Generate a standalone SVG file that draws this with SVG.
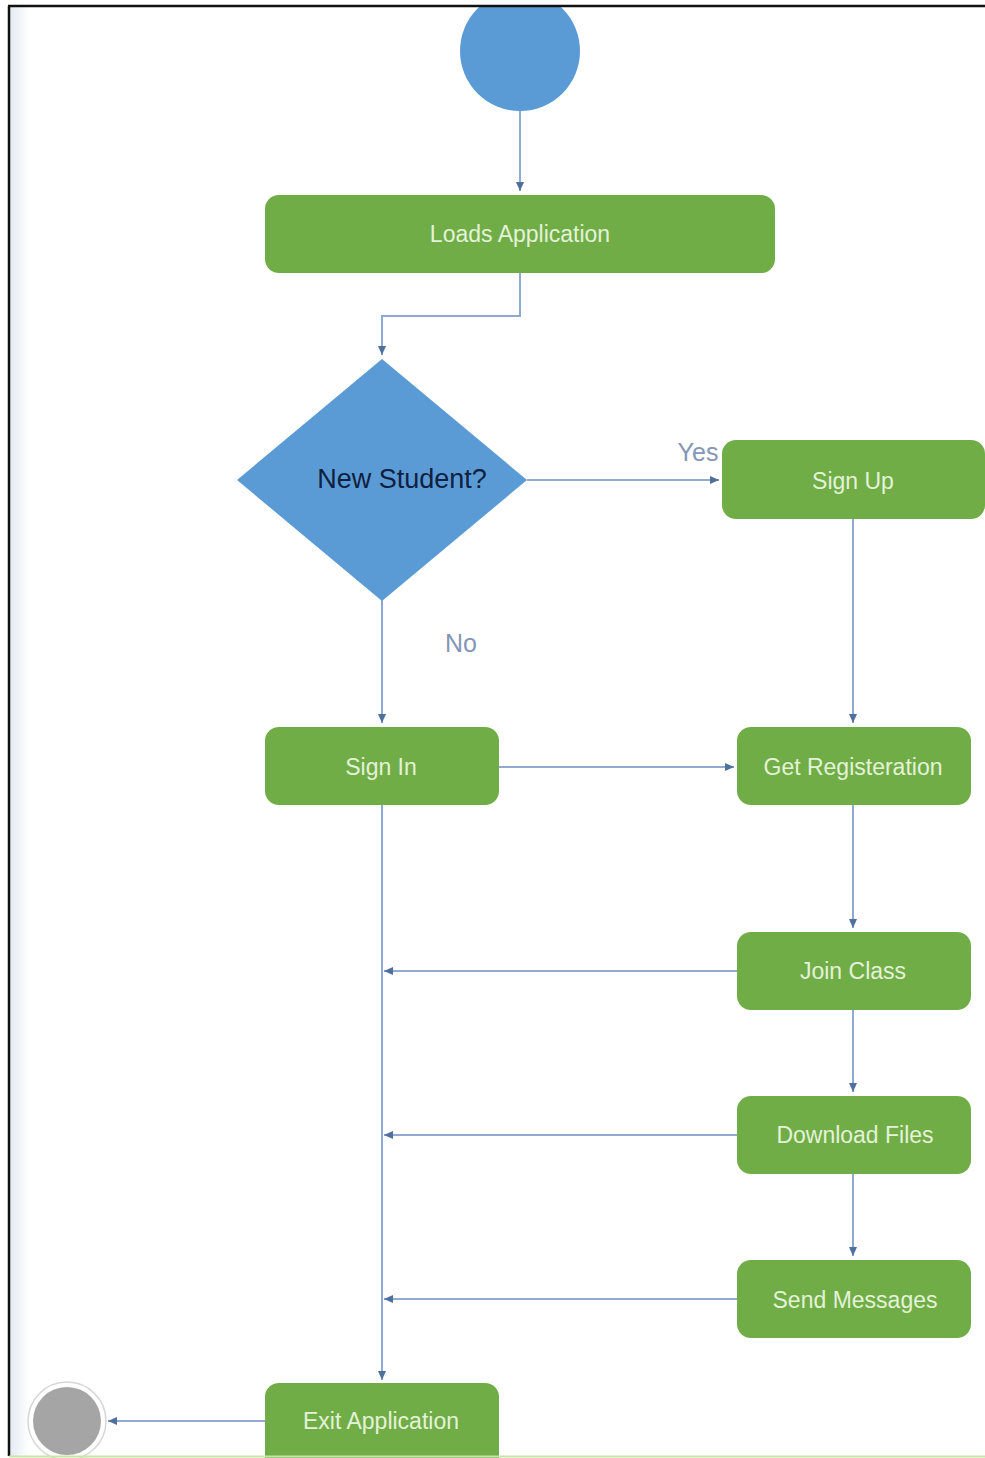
<svg xmlns="http://www.w3.org/2000/svg" width="985" height="1458" viewBox="0 0 985 1458">
<defs>
<linearGradient id="strip" x1="0" y1="0" x2="1" y2="0">
<stop offset="0" stop-color="#e4ebf3"/>
<stop offset="1" stop-color="#ffffff"/>
</linearGradient>
<marker id="ah" markerWidth="10" markerHeight="10" refX="9" refY="5" orient="auto" markerUnits="userSpaceOnUse">
<path d="M0,1 L9,5 L0,9 Z" fill="#4f6f9f"/>
</marker>
<style>
.act{fill:#70ad47;}
.at{font-family:"Liberation Sans",Arial,sans-serif;font-size:23px;fill:#e4f2d8;text-anchor:middle;dominant-baseline:central;}
.conn{fill:none;stroke:#8fa9d1;stroke-width:2;marker-end:url(#ah);}
.lbl{font-family:"Liberation Sans",Arial,sans-serif;font-size:25px;fill:#8496b6;text-anchor:middle;dominant-baseline:central;}
</style>
</defs>
<rect x="0" y="0" width="985" height="1458" fill="#ffffff"/>
<rect x="10" y="7" width="20" height="1449" fill="url(#strip)"/>

<g id="connectors">
<path class="conn" d="M520,110 L520,191"/>
<path class="conn" d="M520,273 L520,316 L382,316 L382,355"/>
<path class="conn" d="M527,480 L719,480"/>
<path class="conn" d="M853,519 L853,723"/>
<path class="conn" d="M382,600 L382,723"/>
<path class="conn" d="M499,767 L734,767"/>
<path class="conn" d="M853,805 L853,928"/>
<path class="conn" d="M737,971 L384,971"/>
<path class="conn" d="M853,1010 L853,1092"/>
<path class="conn" d="M737,1135 L384,1135"/>
<path class="conn" d="M853,1174 L853,1256"/>
<path class="conn" d="M737,1299 L384,1299"/>
<path class="conn" d="M382,805 L382,1380"/>
<path class="conn" d="M265,1421 L108,1421"/>
<text class="lbl" x="698" y="452">Yes</text>
<text class="lbl" x="461" y="643">No</text>
</g>

<g id="start">
<circle cx="520" cy="51" r="60" fill="#5b9bd5"/>
</g>
<g id="loads">
<rect class="act" x="265" y="195" width="510" height="78" rx="14"/>
<text class="at" x="520" y="234">Loads Application</text>
</g>
<g id="decision">
<polygon points="382,359 527,480 382,601 237,480" fill="#5b9bd5"/>
<text x="402" y="479" font-family="Liberation Sans,Arial,sans-serif" font-size="27" fill="#0f2040" text-anchor="middle" dominant-baseline="central">New Student?</text>
</g>
<g id="signup">
<rect class="act" x="722" y="440" width="263" height="79" rx="14"/>
<text class="at" x="853" y="481">Sign Up</text>
</g>
<g id="signin">
<rect class="act" x="265" y="727" width="234" height="78" rx="14"/>
<text class="at" x="381" y="767">Sign In</text>
</g>
<g id="getreg">
<rect class="act" x="737" y="727" width="234" height="78" rx="14"/>
<text class="at" x="853" y="767">Get Registeration</text>
</g>
<g id="joinclass">
<rect class="act" x="737" y="932" width="234" height="78" rx="14"/>
<text class="at" x="853" y="971">Join Class</text>
</g>
<g id="download">
<rect class="act" x="737" y="1096" width="234" height="78" rx="14"/>
<text class="at" x="855" y="1135">Download Files</text>
</g>
<g id="send">
<rect class="act" x="737" y="1260" width="234" height="78" rx="14"/>
<text class="at" x="855" y="1300">Send Messages</text>
</g>
<g id="exit">
<rect class="act" x="265" y="1383" width="234" height="90" rx="14"/>
<text class="at" x="381" y="1421">Exit Application</text>
</g>
<g id="end">
<circle cx="67" cy="1421" r="39" fill="#ffffff" stroke="#d6d6d6" stroke-width="1.5"/>
<circle cx="67" cy="1421" r="34" fill="#a5a5a5"/>
</g>
<rect x="0" y="0" width="985" height="5" fill="#ffffff"/>
<line x1="8" y1="6" x2="985" y2="6" stroke="#111" stroke-width="2.5"/>
<line x1="9" y1="6" x2="9" y2="1456" stroke="#111" stroke-width="2.5"/>
<line x1="9" y1="1456.5" x2="985" y2="1456.5" stroke="#c8e6a8" stroke-width="2"/>
</svg>
